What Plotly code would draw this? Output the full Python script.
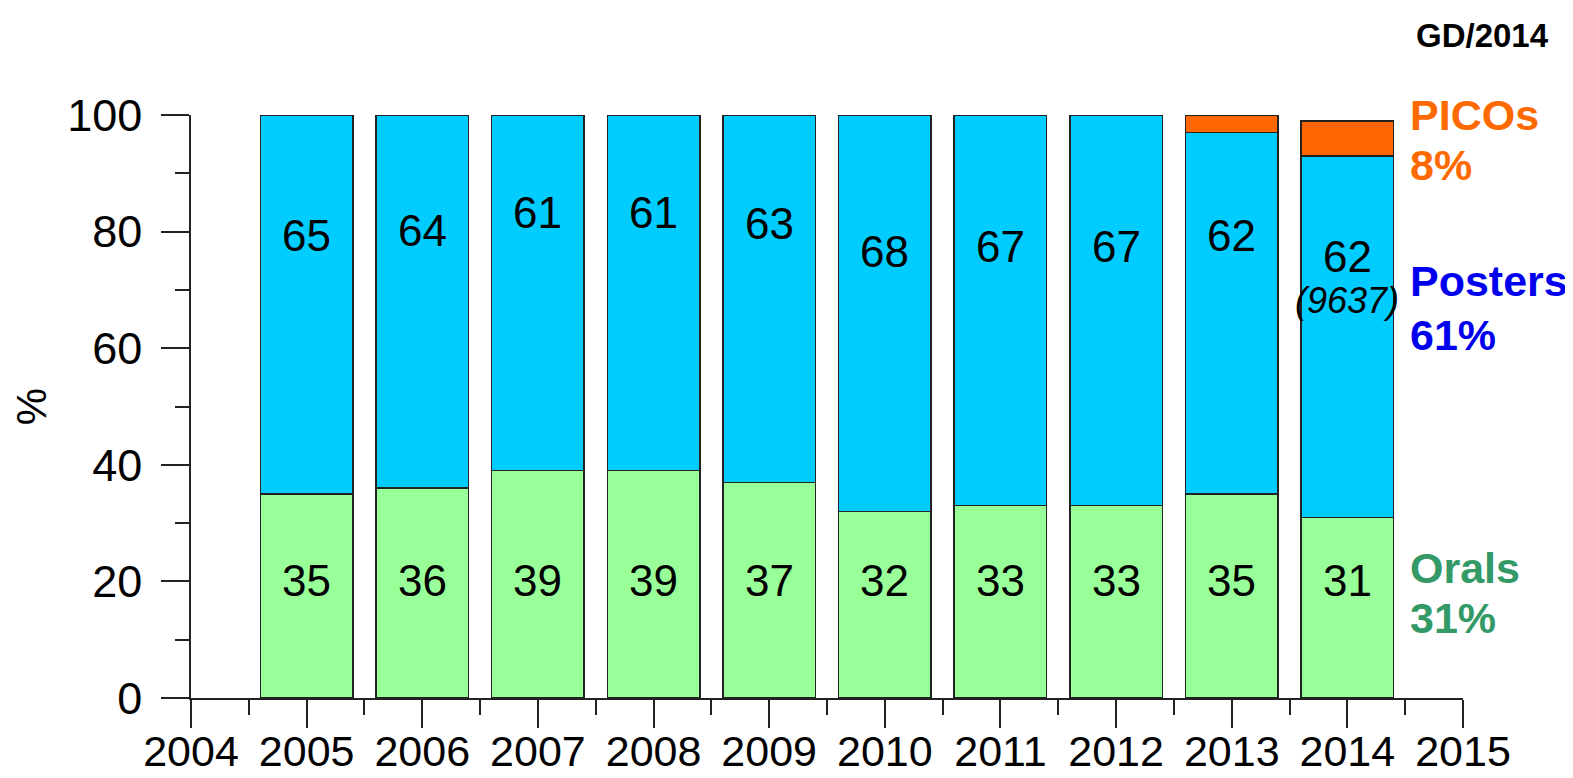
import plotly.graph_objects as go

years = [2005, 2006, 2007, 2008, 2009, 2010, 2011, 2012, 2013, 2014]
orals = [35, 36, 39, 39, 37, 32, 33, 33, 35, 31]
posters = [65, 64, 61, 61, 63, 68, 67, 67, 62, 62]
picos = [0, 0, 0, 0, 0, 0, 0, 0, 3, 6]

# where the poster numbers sit inside each bar
poster_label_y = [79.4, 80.2, 83.3, 83.3, 81.4, 76.6, 77.5, 77.5, 79.4, 75.8]
oral_label_y = 20.2

# side labels: name, share, colour, pixel y of the two lines
share_labels = [("PICOs", "8%", "#FF6A00", 107, 157),
                ("Posters", "61%", "#0000EE", 273, 327),
                ("Orals", "31%", "#339966", 560, 610)]

FONT = "Liberation Sans, Arial, sans-serif"
W, H = 1573, 778
L, R, T, B = 183, 1455, 107, 690   # plot area in pixels
edge = dict(color="#222222", width=1.5)


def px(x):
    return (x - L) / (R - L)


def py(y):
    return (B - y) / (B - T)


fig = go.Figure()
fig.add_trace(go.Bar(x=years, y=orals, width=0.8, marker=dict(color="#99FF99", line=edge), name="Orals"))
fig.add_trace(go.Bar(x=years, y=posters, width=0.8, marker=dict(color="#00CCFF", line=edge), name="Posters"))
fig.add_trace(go.Bar(x=years, y=picos, width=0.8, marker=dict(color="#FF6600", line=edge), name="PICOs"))

ann = []
for i, yr in enumerate(years):
    ann.append(dict(x=yr, y=oral_label_y, text=str(orals[i]), font=dict(size=44)))
    ann.append(dict(x=yr, y=poster_label_y[i], text=str(posters[i]), font=dict(size=44)))
    top = orals[i] + posters[i] + picos[i]
    ann.append(dict(x=yr, y=top + 4.4, text=str(picos[i]), font=dict(size=40)))

ann.append(dict(x=2014, y=68.2, text="<i>(9637)</i>", font=dict(size=36)))

for name, pct, col, y1, y2 in share_labels:
    ann.append(dict(x=px(1401), y=py(y1), xref="paper", yref="paper", text="<b>%s</b>" % name,
                    xanchor="left", font=dict(size=43, color=col)))
    ann.append(dict(x=px(1401), y=py(y2), xref="paper", yref="paper", text="<b>%s</b>" % pct,
                    xanchor="left", font=dict(size=43, color=col)))

ann.append(dict(x=px(1542), y=py(27), xref="paper", yref="paper", text="<b>GD/2014</b>",
                xanchor="right", font=dict(size=33)))

for a in ann:
    a.setdefault("xref", "x")
    a.setdefault("yref", "y")
    a["showarrow"] = False
    a["yanchor"] = "middle"
    a["borderpad"] = 0
    a["font"].setdefault("color", "black")
    a["font"]["family"] = FONT

fig.update_layout(
    barmode="stack",
    width=W, height=H,
    margin=dict(l=L, r=W - R, t=T, b=H - B, autoexpand=False),
    plot_bgcolor="white", paper_bgcolor="white",
    showlegend=False,
    font=dict(family=FONT, size=45, color="black"),
    annotations=ann,
    xaxis=dict(
        range=[2004, 2015], tickmode="linear", tick0=2004, dtick=1, automargin=False,
        showgrid=False, zeroline=False, showline=True, linecolor="#222", linewidth=1.5,
        ticks="outside", ticklen=28, tickwidth=1.5, tickcolor="#222",
        tickfont=dict(size=43), ticklabelstandoff=-13,
        minor=dict(tick0=2004.5, dtick=1, ticks="outside", ticklen=15, tickwidth=1.5, tickcolor="#222"),
    ),
    yaxis=dict(
        range=[0, 100], tickmode="linear", tick0=0, dtick=20, automargin=False,
        showgrid=False, zeroline=False, showline=True, linecolor="#222", linewidth=1.5,
        ticks="outside", ticklen=28, tickwidth=1.5, tickcolor="#222",
        tickfont=dict(size=45), ticklabelstandoff=10,
        minor=dict(dtick=10, ticks="outside", ticklen=14, tickwidth=1.5, tickcolor="#222"),
        title=dict(text="%", font=dict(size=42), standoff=30),
    ),
)

fig.write_html("out.html")
